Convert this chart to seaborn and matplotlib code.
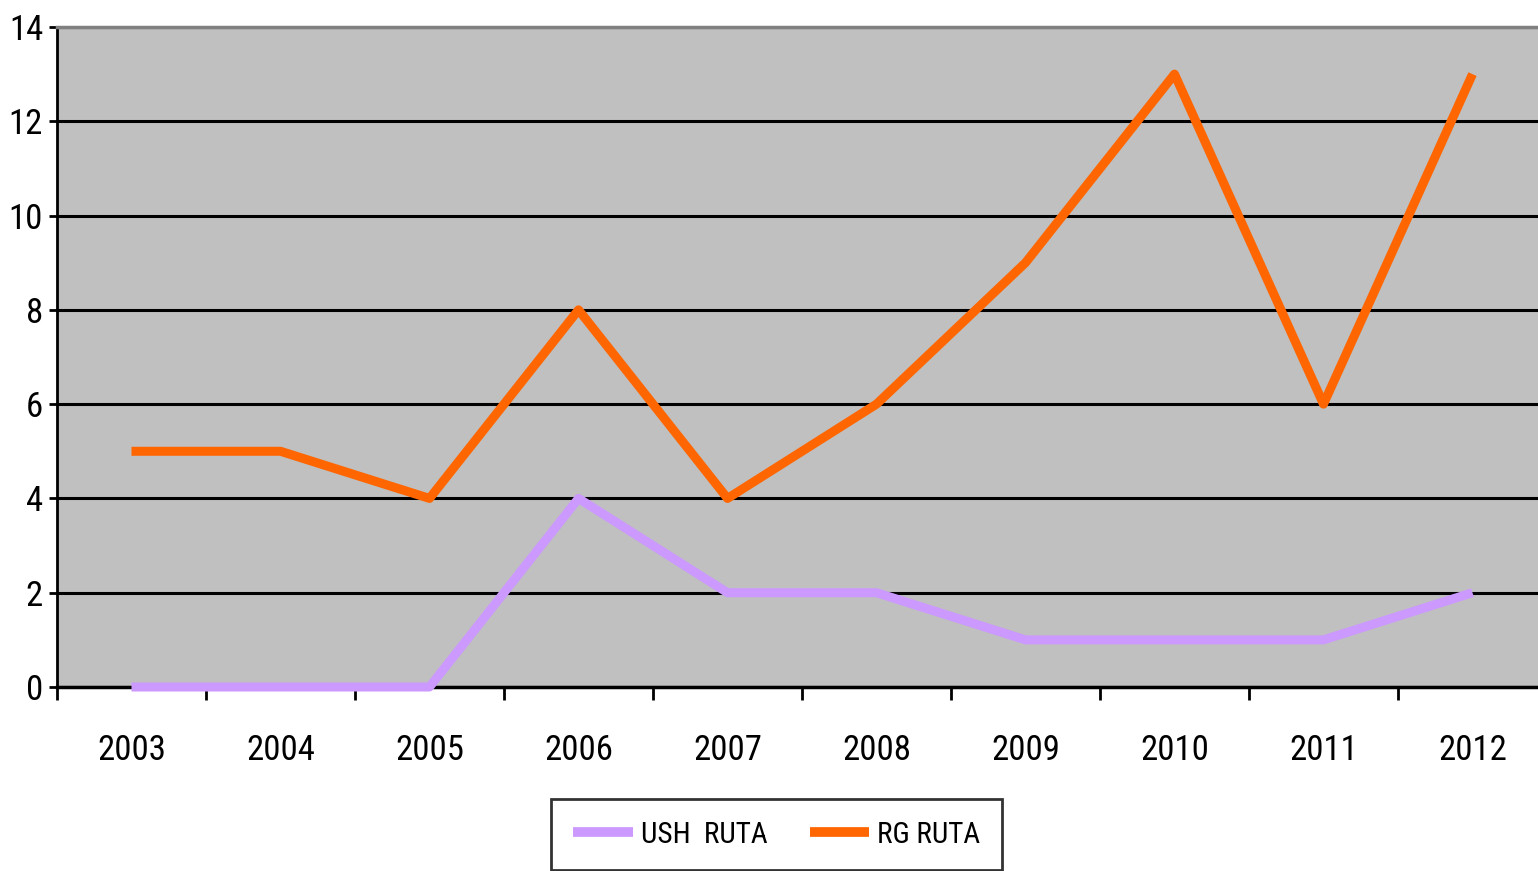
import pandas as pd
import seaborn as sns
import matplotlib.pyplot as plt
from matplotlib.ticker import FixedLocator

years = ['2003', '2004', '2005', '2006', '2007', '2008', '2009', '2010', '2011', '2012']
ush_ruta = [0, 0, 0, 4, 2, 2, 1, 1, 1, 2]
rg_ruta = [5, 5, 4, 8, 4, 6, 9, 13, 6, 13]
series_names = ['USH  RUTA', 'RG RUTA']
colors = ['#CC99FF', '#FF6600']
y_ticks = [0, 2, 4, 6, 8, 10, 12, 14]

df = pd.DataFrame({
    'year': years * 2,
    'value': ush_ruta + rg_ruta,
    'series': [series_names[0]] * len(years) + [series_names[1]] * len(years),
})
df['pos'] = list(range(len(years))) * 2

sns.set_style('white')
plt.rcParams['font.family'] = ['Liberation Sans Narrow', 'Arial Narrow', 'Roboto Condensed',
                               'Liberation Sans', 'DejaVu Sans']
plt.rcParams['text.color'] = 'black'
plt.rcParams['xtick.color'] = 'black'
plt.rcParams['ytick.color'] = 'black'

fig = plt.figure(figsize=(15.38, 8.71), dpi=100)
ax = fig.add_axes([57 / 1538, 1 - 687 / 871, 1490 / 1538, 660 / 871])
ax.set_facecolor('#C0C0C0')

sns.lineplot(data=df, x='pos', y='value', hue='series', hue_order=series_names,
             palette=colors, linewidth=6.5, solid_capstyle='butt', ax=ax,
             legend=False, clip_on=False, zorder=3)

ax.set_xlim(-0.5, 9.5)
ax.set_ylim(0, 14)
ax.set_yticks(y_ticks)
ax.set_yticklabels([str(t) for t in y_ticks])
ax.yaxis.grid(True, color='black', linewidth=2.2)
ax.set_axisbelow(True)

ax.set_xticks(range(len(years)))
ax.set_xticklabels(years)
ax.xaxis.set_minor_locator(FixedLocator([i - 0.5 for i in range(len(years) + 1)]))
ax.tick_params(axis='x', which='major', bottom=True, length=0, pad=34, labelsize=25)
ax.tick_params(axis='x', which='minor', bottom=True, length=9, width=2, direction='out')
ax.tick_params(axis='y', left=True, length=6, width=2, direction='out', labelsize=25, pad=4)
ax.set_xlabel('')
ax.set_ylabel('')

ax.spines['right'].set_visible(False)
ax.spines['top'].set_color('#808080')
ax.spines['top'].set_linewidth(2.5)
ax.spines['left'].set_color('black')
ax.spines['left'].set_linewidth(2)
ax.spines['bottom'].set_color('black')
ax.spines['bottom'].set_linewidth(2.5)

handles = [plt.Line2D([], [], color=c, linewidth=7, solid_capstyle='butt') for c in colors]
leg = fig.legend(handles, series_names, loc='upper center', bbox_to_anchor=(0.505, 0.083),
                 ncol=2, frameon=True, fancybox=False, edgecolor='black', fontsize=21,
                 handlelength=2.05, handletextpad=0.27, columnspacing=1.45, borderpad=0.75,
                 borderaxespad=0)
leg.get_frame().set_linewidth(2)

fig.savefig('out.png', dpi=100)
